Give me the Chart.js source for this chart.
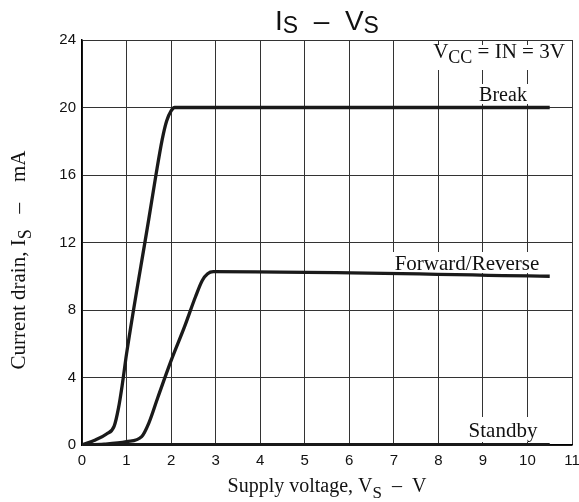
<!DOCTYPE html>
<html>
<head>
<meta charset="utf-8">
<script src="https://cdn.jsdelivr.net/npm/chart.js@4.4.0/dist/chart.umd.min.js"></script>
<style>
html, body { margin: 0; padding: 0; background: #fff; }
#wrap { width: 579px; height: 502px; }
</style>
</head>
<body>
<div id="wrap"><canvas id="chart" width="579" height="502"></canvas></div>
<script>
// Is - Vs curves

const xTicks = [0, 1, 2, 3, 4, 5, 6, 7, 8, 9, 10, 11];
const yTicks = [0, 4, 8, 12, 16, 20, 24];

const breakV = [0, 0.3, 0.55, 0.72, 0.82, 0.9, 1.0, 1.5, 1.66, 1.8, 1.9, 2.0, 2.08, 10.5];
const breakI = [0, 0.3, 0.65, 1.1, 2.2, 3.5, 5.4, 13.4, 16, 18.1, 19.2, 19.8, 20, 20];

const fwdV = [0, 0.5, 1.0, 1.34, 1.5, 1.7, 2.0, 2.3, 2.55, 2.7, 2.82, 2.95, 10.5];
const fwdI = [0, 0.05, 0.2, 0.5, 1.3, 2.8, 5.0, 7.0, 8.8, 9.75, 10.15, 10.27, 10.0];

const standbyV = [0, 10.5];
const standbyI = [0, 0];

const lineColor = '#1a1a1a';
const serif = '"Liberation Serif", "Times New Roman", serif';
const sans = '"Liberation Sans", Arial, sans-serif';

function toPoints(xs, ys) {
    return xs.map((x, i) => ({ x: x, y: ys[i] }));
}

function makeSet(label, xs, ys, width) {
    return {
        label: label,
        data: toPoints(xs, ys),
        borderColor: lineColor,
        borderWidth: width,
        pointRadius: 0,
        fill: false,
        cubicInterpolationMode: 'monotone'
    };
}

// draw text made of pieces (for subscripts)
function richWidth(ctx, parts) {
    let w = 0;
    parts.forEach(p => { ctx.font = p.f; w += ctx.measureText(p.t).width; });
    return w;
}
function richText(ctx, parts, x, y) {
    let cx = x;
    parts.forEach(p => {
        ctx.font = p.f;
        ctx.fillText(p.t, cx, y + (p.dy || 0));
        cx += ctx.measureText(p.t).width;
    });
}

function boxedLabel(ctx, parts, cx, baseline, padX, top, bottom) {
    const w = richWidth(ctx, parts);
    ctx.fillStyle = '#fff';
    ctx.fillRect(cx - w / 2 - padX, top, w + padX * 2, bottom - top);
    ctx.fillStyle = '#111';
    richText(ctx, parts, cx - w / 2, baseline);
}

const textPlugin = {
    id: 'texts',
    beforeDatasetsDraw(chart) {
        const ctx = chart.ctx;
        ctx.save();
        ctx.textBaseline = 'alphabetic';
        ctx.textAlign = 'left';
        const f20 = '20px ' + serif;
        const f21 = '21px ' + serif;
        const f17 = '18px ' + serif;
        boxedLabel(ctx, [{ t: 'V', f: f21 }, { t: 'CC', f: f17, dy: 5 }, { t: ' = IN = 3V', f: f21 }], 499, 58, 3, 45, 70);
        boxedLabel(ctx, [{ t: 'Break', f: f20 }], 503, 101, 3, 84, 104);
        boxedLabel(ctx, [{ t: 'Forward/Reverse', f: f21 }], 467, 270, 3, 252, 273);
        boxedLabel(ctx, [{ t: 'Standby', f: f21 }], 503, 437, 4, 417, 442);
        ctx.restore();
    },
    afterDraw(chart) {
        const ctx = chart.ctx;
        ctx.save();
        ctx.fillStyle = '#111';
        ctx.textBaseline = 'alphabetic';
        ctx.textAlign = 'left';

        // title
        const tBig = '28px ' + sans;
        const tSub = '23px ' + sans;
        const title = [
            { t: 'I', f: tBig }, { t: 'S', f: tSub, dy: 3 },
            { t: '  \u2013  ', f: tBig },
            { t: 'V', f: tBig }, { t: 'S', f: tSub, dy: 3 }
        ];
        const tw = richWidth(ctx, title);
        richText(ctx, title, 327 - tw / 2, 30);

        // x axis title
        const xf = '20px ' + serif;
        const xs = '17px ' + serif;
        const xt = [
            { t: 'Supply voltage, V', f: xf }, { t: 'S', f: xs, dy: 6 },
            { t: '  \u2013  V', f: xf }
        ];
        const xw = richWidth(ctx, xt);
        richText(ctx, xt, 327 - xw / 2, 492);

        // y axis title
        const yf = '21px ' + serif;
        const ys = '18px ' + serif;
        const yt = [
            { t: 'Current drain, I', f: yf }, { t: 'S', f: ys, dy: 6 },
            { t: '   \u2013    mA', f: yf }
        ];
        const yw = richWidth(ctx, yt);
        ctx.translate(25, 260);
        ctx.rotate(-Math.PI / 2);
        richText(ctx, yt, -yw / 2, 0);
        ctx.restore();
    }
};

new Chart(document.getElementById('chart'), {
    type: 'line',
    data: {
        datasets: [
            makeSet('Break', breakV, breakI, 3.3),
            makeSet('Forward/Reverse', fwdV, fwdI, 3.3),
            makeSet('Standby', standbyV, standbyI, 3.8)
        ]
    },
    options: {
        responsive: false,
        animation: false,
        layout: { padding: { top: 40, right: 7, left: 0, bottom: 0 } },
        plugins: {
            legend: { display: false },
            tooltip: { enabled: false }
        },
        scales: {
            x: {
                type: 'linear',
                min: 0,
                max: 11,
                afterFit(scale) { scale.height = 57; scale.paddingRight = 0; scale.paddingLeft = 0; },
                afterBuildTicks(scale) { scale.ticks = xTicks.map(v => ({ value: v })); },
                ticks: { color: '#111', font: { family: sans, size: 15 }, padding: 7, maxRotation: 0 },
                grid: { color: '#333', lineWidth: 1, drawTicks: false },
                border: { color: '#000', width: 1.5 }
            },
            y: {
                min: 0,
                max: 24,
                afterFit(scale) { scale.width = 82; },
                afterBuildTicks(scale) { scale.ticks = yTicks.map(v => ({ value: v })); },
                ticks: { color: '#111', font: { family: sans, size: 15 }, padding: 6 },
                grid: { color: '#333', lineWidth: 1, drawTicks: false },
                border: { color: '#000', width: 1.5 }
            }
        }
    },
    plugins: [textPlugin]
});
</script>
</body>
</html>
